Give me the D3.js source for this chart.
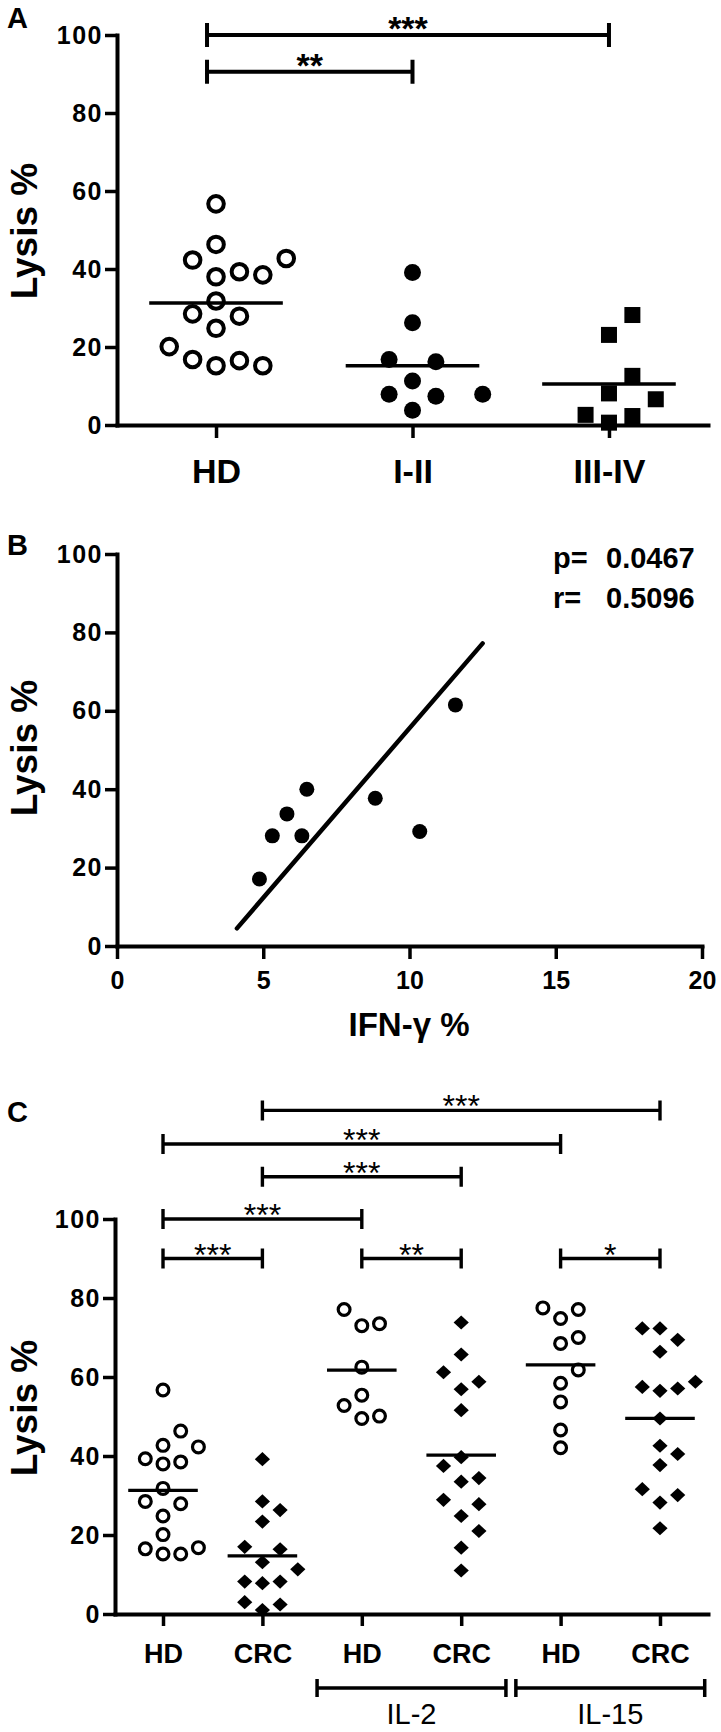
<!DOCTYPE html>
<html>
<head>
<meta charset="utf-8">
<script src="https://cdn.jsdelivr.net/npm/d3@7"></script>
<style>
    body { margin: 0; background: #fff; }
    svg { display: block; }
</style>
</head>
<body>
<div id="figure"></div>
<script>
// ---------- panel A data: lysis % per donor group ----------
const groupsA = ["HD", "I-II", "III-IV"];
const lysisHD = [56.7, 46.3, 42.3, 42.7, 38.5, 38.0, 39.3, 31.8, 27.9, 28.5, 24.8, 20.1, 16.5, 15.2, 15.2, 16.8];
const lysisStageI_II = [39.1, 26.2, 16.8, 16.2, 11.3, 7.9, 7.9, 7.4, 3.8];
const lysisStageIII_IV = [28.2, 23.1, 12.6, 8.1, 6.6, 2.6, 2.3, 0.6];
const bracketsA = [
    { from: "HD", to: "III-IV", level: 100, label: "***" },
    { from: "HD", to: "I-II", level: 90.6, label: "**" },
];

// ---------- panel B data: IFN-gamma vs lysis ----------
const ifnGamma = [6.49, 5.81, 5.31, 6.32, 4.87, 11.57, 8.83, 10.35];
const lysisB = [40.0, 33.7, 28.1, 28.1, 17.1, 61.5, 37.7, 29.2];
const fitLineX = [4.1, 12.5];
const fitLineY = [4.5, 77.2];
const statNames = ["p=", "r="];
const statValues = ["0.0467", "0.5096"];
const ticksIfn = [0, 5, 10, 15, 20];

// ---------- panel C data: lysis % with cytokines ----------
const categoriesC = ["HD", "CRC", "HD IL-2", "CRC IL-2", "HD IL-15", "CRC IL-15"];
const tickLabelsC = ["HD", "CRC", "HD", "CRC", "HD", "CRC"];
const lysisCRC = [39.2, 28.5, 26.3, 23.4, 17.0, 16.4, 13.1, 11.3, 8.2, 7.8, 8.2, 3.0, 1.0, 2.4];
const lysisHD_IL2 = [77.1, 73.5, 73.0, 62.5, 55.4, 52.8, 50.1, 49.5];
const lysisCRC_IL2 = [73.8, 65.7, 61.2, 58.8, 56.9, 51.6, 39.7, 37.5, 34.4, 33.5, 28.9, 27.8, 24.8, 21.0, 16.8, 11.0];
const lysisHD_IL15 = [77.5, 77.1, 74.8, 70.0, 68.5, 61.8, 58.4, 53.7, 46.6, 42.1];
const lysisCRC_IL15 = [72.3, 72.3, 69.4, 66.4, 58.8, 57.5, 57.1, 56.5, 49.5, 42.6, 40.5, 37.7, 31.6, 30.1, 28.2, 21.7];
const bracketsC = [
    { from: "CRC", to: "CRC IL-15", level: 127.5, label: "***" },
    { from: "HD", to: "HD IL-15", level: 119, label: "***" },
    { from: "CRC", to: "CRC IL-2", level: 110.7, label: "***" },
    { from: "HD", to: "HD IL-2", level: 100, label: "***" },
    { from: "HD", to: "CRC", level: 90, label: "***" },
    { from: "HD IL-2", to: "CRC IL-2", level: 90, label: "**" },
    { from: "HD IL-15", to: "CRC IL-15", level: 90, label: "*" },
];
const treatments = [
    { label: "IL-2", from: "HD IL-2", to: "CRC IL-2" },
    { label: "IL-15", from: "HD IL-15", to: "CRC IL-15" },
];

const lysisTicks = [0, 20, 40, 60, 80, 100];
const FONT = "'Liberation Sans', Arial, Helvetica, sans-serif";

// spread points of one column sideways so they do not overlap
function swarm(values, y, step, minDist) {
    const placed = [];
    const sorted = values.slice().sort((a, b) => a - b);
    sorted.forEach(v => {
        const py = y(v);
        for (let k = 0; k < 40; k++) {
            const slot = k === 0 ? 0 : (k % 2 ? (k + 1) / 2 : -k / 2);
            const px = slot * step;
            if (placed.every(q => Math.hypot(px - q.dx, py - q.py) >= minDist)) {
                placed.push({ value: v, dx: px, py: py });
                break;
            }
        }
    });
    return placed;
}

// draw one marker
function drawMarker(g, kind, cx, cy, s) {
    if (kind === "open") {
        g.append("circle").attr("cx", cx).attr("cy", cy).attr("r", s.r)
            .attr("fill", "none").attr("stroke", "#000").attr("stroke-width", s.sw);
    } else if (kind === "dot") {
        g.append("circle").attr("cx", cx).attr("cy", cy).attr("r", s.r).attr("fill", "#000");
    } else if (kind === "square") {
        g.append("rect").attr("x", cx - s.r).attr("y", cy - s.r)
            .attr("width", 2 * s.r).attr("height", 2 * s.r).attr("fill", "#000");
    } else if (kind === "diamond") {
        const w = s.r, h = s.r * 0.93;
        g.append("path")
            .attr("d", `M${cx},${cy - h}L${cx + w},${cy}L${cx},${cy + h}L${cx - w},${cy}Z`)
            .attr("fill", "#000");
    }
}

// style an axis group
function styleAxis(g, fontSize, weight, width, spacing) {
    g.attr("font-family", FONT).attr("font-size", fontSize).attr("font-weight", weight);
    g.selectAll("text").attr("fill", "#000").attr("letter-spacing", spacing || 0);
    g.select(".domain").attr("stroke", "#000").attr("stroke-width", width).attr("stroke-linecap", "square");
    g.selectAll(".tick line").attr("stroke", "#000").attr("stroke-width", width - 0.5);
}

// significance bracket with stars
function drawBracket(g, x1, x2, y, cap, width, label, fontSize, weight, textDy) {
    g.append("path")
        .attr("d", `M${x1},${y - cap}V${y + cap}M${x1},${y}H${x2}M${x2},${y - cap}V${y + cap}`)
        .attr("fill", "none").attr("stroke", "#000").attr("stroke-width", width);
    g.append("text")
        .attr("x", (x1 + x2) / 2).attr("y", y + textDy)
        .attr("text-anchor", "middle")
        .attr("font-family", FONT).attr("font-size", fontSize).attr("font-weight", weight)
        .text(label);
}

function yTitle(svg, x, y) {
    svg.append("text")
        .attr("transform", `translate(${x},${y}) rotate(-90)`)
        .attr("text-anchor", "middle")
        .attr("font-family", FONT).attr("font-size", 37).attr("font-weight", "bold")
        .text("Lysis %");
}

function panelLetter(svg, letter, y) {
    svg.append("text").attr("x", 7).attr("y", y)
        .attr("font-family", FONT).attr("font-size", 29).attr("font-weight", "bold")
        .text(letter);
}

const svg = d3.select("#figure").append("svg")
    .attr("width", 721).attr("height", 1732)
    .attr("viewBox", "0 0 721 1732");

svg.append("rect").attr("width", 721).attr("height", 1732).attr("fill", "#fff");

// ================= panel A =================
function drawPanelA() {
    const y = d3.scaleLinear().domain([0, 100]).range([425, 35]);
    const x = d3.scalePoint().domain(groupsA).range([117, 708]).padding(0.504);
    const g = svg.append("g");

    panelLetter(svg, "A", 28);
    yTitle(svg, 36.5, 231);

    // y axis
    g.append("g").attr("transform", "translate(117,0)")
        .call(d3.axisLeft(y).tickValues(lysisTicks).tickSize(12).tickSizeOuter(0).tickPadding(2))
        .call(a => styleAxis(a, 25, "bold", 4, 1.5));

    // x axis
    g.append("g").attr("transform", "translate(0,425)")
        .call(d3.axisBottom(x).tickSize(13).tickSizeOuter(0).tickPadding(21))
        .call(a => styleAxis(a, 34, "bold", 4));

    const series = [lysisHD, lysisStageI_II, lysisStageIII_IV];
    const kinds = ["open", "dot", "square"];
    const sizes = [{ r: 7.8, sw: 4 }, { r: 8.5 }, { r: 8 }];

    series.forEach((vals, i) => {
        const cx = x(groupsA[i]);
        swarm(vals, y, 23.4, 23.6).forEach(p => drawMarker(g, kinds[i], cx + p.dx, y(p.value), sizes[i]));
        // mean line
        const m = d3.mean(vals);
        const hw = x.step() * 0.34;
        g.append("line").attr("x1", cx - hw).attr("x2", cx + hw)
            .attr("y1", y(m)).attr("y2", y(m))
            .attr("stroke", "#000").attr("stroke-width", 3.6);
    });

    bracketsA.forEach(b => drawBracket(g, x(b.from) - 9, x(b.to), y(b.level), 12, 4, b.label, 34, "bold", 5));
}

// ================= panel B =================
function drawPanelB() {
    const y = d3.scaleLinear().domain([0, 100]).range([946, 554]);
    const x = d3.scaleLinear().domain([0, 20]).range([117, 702]);
    const g = svg.append("g");

    panelLetter(svg, "B", 555);
    yTitle(svg, 36.5, 748);

    g.append("g").attr("transform", "translate(117,0)")
        .call(d3.axisLeft(y).tickValues(lysisTicks).tickSize(12).tickSizeOuter(0).tickPadding(2))
        .call(a => styleAxis(a, 25, "bold", 4, 1.5));

    g.append("g").attr("transform", "translate(0,946)")
        .call(d3.axisBottom(x).tickValues(ticksIfn).tickSize(13).tickSizeOuter(0).tickPadding(12))
        .call(a => styleAxis(a, 25, "bold", 4));

    // x axis title
    g.append("text").attr("x", 409).attr("y", 1036).attr("text-anchor", "middle")
        .attr("font-family", FONT).attr("font-size", 33).attr("font-weight", "bold")
        .text("IFN-γ %");

    // regression line
    g.append("line")
        .attr("x1", x(fitLineX[0])).attr("y1", y(fitLineY[0]))
        .attr("x2", x(fitLineX[1])).attr("y2", y(fitLineY[1]))
        .attr("stroke", "#000").attr("stroke-width", 4.5).attr("stroke-linecap", "round");

    // points
    g.selectAll(".pt").data(ifnGamma).enter().append("circle")
        .attr("cx", d => x(d)).attr("cy", (d, i) => y(lysisB[i]))
        .attr("r", 7.5).attr("fill", "#000");

    // statistics
    statNames.forEach((s, i) => {
        g.append("text").attr("x", 553).attr("y", 568 + i * 40)
            .attr("font-family", FONT).attr("font-size", 29).attr("font-weight", "bold").text(s);
        g.append("text").attr("x", 606).attr("y", 568 + i * 40)
            .attr("font-family", FONT).attr("font-size", 29).attr("font-weight", "bold").text(statValues[i]);
    });
}

// ================= panel C =================
function drawPanelC() {
    const y = d3.scaleLinear().domain([0, 100]).range([1614, 1219]);
    const x = d3.scalePoint().domain(categoriesC).range([115, 708]).padding(0.483);
    const g = svg.append("g");

    panelLetter(svg, "C", 1122);
    yTitle(svg, 36.5, 1408);

    g.append("g").attr("transform", "translate(115,0)")
        .call(d3.axisLeft(y).tickValues(lysisTicks).tickSize(12).tickSizeOuter(0).tickPadding(2))
        .call(a => styleAxis(a, 25, "bold", 4, 1.5));

    g.append("g").attr("transform", "translate(0,1614)")
        .call(d3.axisBottom(x).tickSize(12).tickSizeOuter(0).tickPadding(18)
            .tickFormat((d, i) => tickLabelsC[i]))
        .call(a => styleAxis(a, 27, "bold", 4));

    const series = [lysisHD, lysisCRC, lysisHD_IL2, lysisCRC_IL2, lysisHD_IL15, lysisCRC_IL15];

    series.forEach((vals, i) => {
        const cx = x(categoriesC[i]);
        const kind = i % 2 === 0 ? "open" : "diamond";
        const size = i % 2 === 0 ? { r: 5.9, sw: 3.2 } : { r: 7.6 };
        swarm(vals, y, 17.7, 17.2).forEach(p => drawMarker(g, kind, cx + p.dx, y(p.value), size));
        const m = d3.mean(vals);
        const hw = x.step() * 0.35;
        g.append("line").attr("x1", cx - hw).attr("x2", cx + hw)
            .attr("y1", y(m)).attr("y2", y(m))
            .attr("stroke", "#000").attr("stroke-width", 3.3);
    });

    bracketsC.forEach(b => drawBracket(g, x(b.from), x(b.to), y(b.level), 10, 3.4, b.label, 32, "normal", 7));

    // cytokine group brackets under the axis
    treatments.forEach(t => {
        const x1 = x(t.from) - x.step() * 0.45;
        const x2 = x(t.to) + x.step() * 0.45;
        g.append("path")
            .attr("d", `M${x1},1679V1697M${x1},1688H${x2}M${x2},1679V1697`)
            .attr("fill", "none").attr("stroke", "#000").attr("stroke-width", 3.5);
        g.append("text").attr("x", (x1 + x2) / 2).attr("y", 1724).attr("text-anchor", "middle")
            .attr("font-family", FONT).attr("font-size", 29)
            .text(t.label);
    });
}

drawPanelA();
drawPanelB();
drawPanelC();
</script>
</body>
</html>
